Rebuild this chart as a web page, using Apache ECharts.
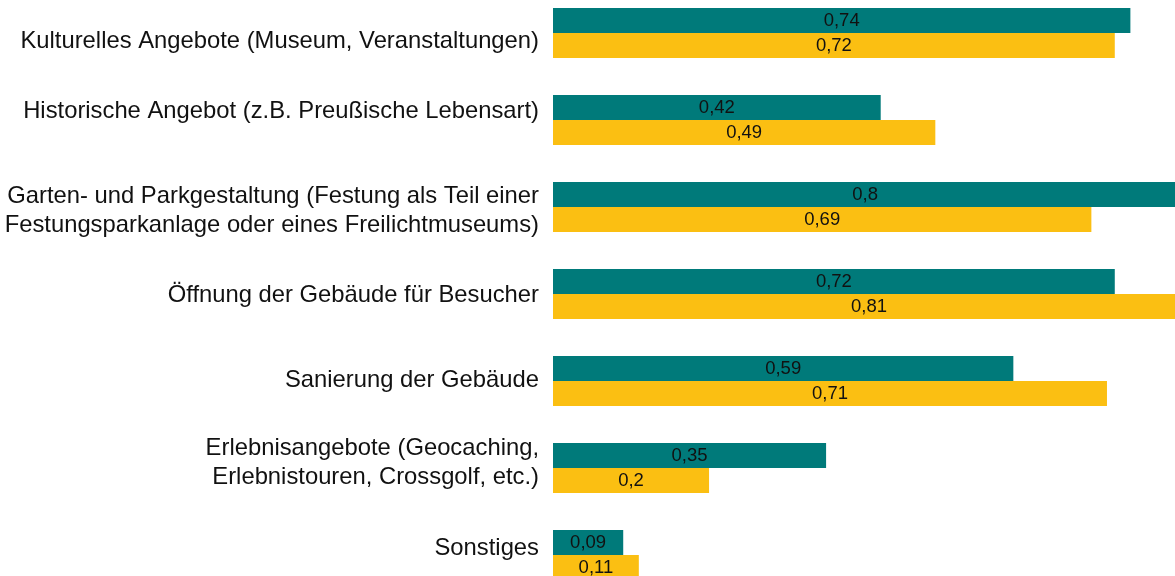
<!DOCTYPE html>
<html>
<head>
<meta charset="utf-8">
<script src="https://cdn.jsdelivr.net/npm/echarts@6/dist/echarts.min.js"></script>
<style>
    html, body { margin: 0; padding: 0; background: #fff; }
    #chart { width: 1175px; height: 576px; }
</style>
</head>
<body>
<div id="chart"></div>
<script>
// Kategorien von oben nach unten
var categories = [
    'Kulturelles Angebote (Museum, Veranstaltungen)',
    'Historische Angebot (z.B. Preußische Lebensart)',
    'Garten- und Parkgestaltung (Festung als Teil einer\nFestungsparkanlage oder eines Freilichtmuseums)',
    'Öffnung der Gebäude für Besucher',
    'Sanierung der Gebäude',
    'Erlebnisangebote (Geocaching,\nErlebnistouren, Crossgolf, etc.)',
    'Sonstiges'
];
var seriesA = [0.74, 0.42, 0.8, 0.72, 0.59, 0.35, 0.09];
var seriesB = [0.72, 0.49, 0.69, 0.81, 0.71, 0.2, 0.11];

// vertikaler Versatz der Achsenbeschriftungen (px, wie im Original)
var labelShift = [8, -9, 4, 1, -1, -5, -7];

var labelFmt = function (p) {
    return String(p.value).replace('.', ',');
};

var valueLabel = {
    show: true,
    position: 'inside',
    formatter: labelFmt,
    color: '#111',
    fontFamily: 'Liberation Sans, Arial, sans-serif',
    fontSize: 18.5
};

// Leerzeile oben oder unten verschiebt den Textblock
var rich = {};
labelShift.forEach(function (s, i) {
    rich['g' + i] = { fontSize: 1, lineHeight: Math.abs(s) * 2, height: Math.abs(s) * 2 };
});
var catFmt = function (value, idx) {
    var s = labelShift[idx];
    if (!s) {
        return value;
    }
    var gap = '{g' + idx + '| }';
    return s > 0 ? gap + '\n' + value : value + '\n' + gap;
};

var chart = echarts.init(document.getElementById('chart'));
chart.setOption({
    animation: false,
    grid: {
        left: 553,
        right: -10,
        top: -10.5,
        height: 609,
        containLabel: false,
        outerBoundsMode: 'none'
    },
    xAxis: {
        type: 'value',
        min: 0,
        max: 0.81,
        show: false
    },
    yAxis: {
        type: 'category',
        inverse: true,
        data: categories,
        axisLine: { show: false },
        axisTick: { show: false },
        axisLabel: {
            margin: 14,
            fontFamily: 'Liberation Sans, Arial, sans-serif',
            fontSize: 23.8,
            lineHeight: 29,
            color: '#111',
            align: 'right',
            formatter: catFmt,
            rich: rich
        }
    },
    series: [
        {
            name: 'A',
            type: 'bar',
            data: seriesA,
            barWidth: 25,
            barGap: '0%',
            itemStyle: { color: '#007A7A' },
            label: valueLabel
        },
        {
            name: 'B',
            type: 'bar',
            data: seriesB,
            barWidth: 25,
            barGap: '0%',
            itemStyle: { color: '#FBBF12' },
            label: valueLabel
        }
    ]
});
</script>
</body>
</html>
